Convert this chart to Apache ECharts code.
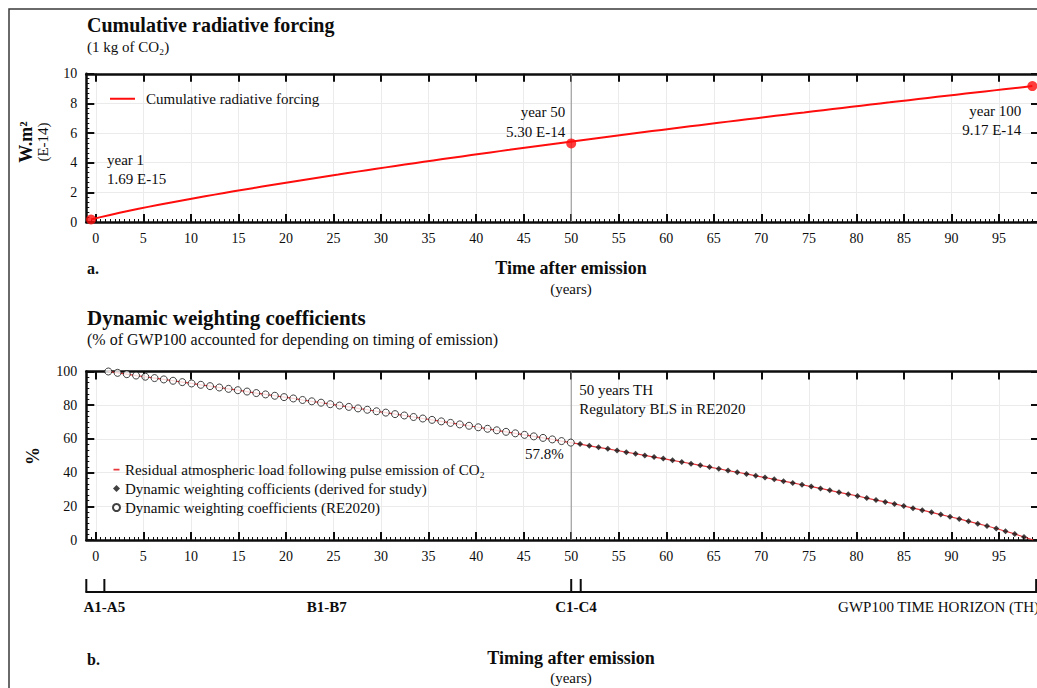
<!DOCTYPE html>
<html>
<head>
<meta charset="utf-8">
<title>Cumulative radiative forcing and dynamic weighting coefficients</title>
<script src="https://cdn.jsdelivr.net/npm/echarts@6/dist/echarts.min.js"></script>
<style>
  html, body { margin: 0; padding: 0; background: #fff; overflow: hidden; }
  #chart { width: 1080px; height: 720px; }
</style>
</head>
<body>
<div id="chart"></div>
<script>
// Cumulative radiative forcing of a 1 kg CO2 pulse (E-14 W.m-2.yr), one value per year from year 1 to year 100
const forcingFirstYear = 1;
const forcingValues = [
  0.169, 0.328, 0.478, 0.622, 0.759, 0.892, 1.021, 1.146, 1.269, 1.389,
  1.506, 1.622, 1.736, 1.848, 1.959, 2.068, 2.176, 2.284, 2.389, 2.494,
  2.598, 2.701, 2.803, 2.905, 3.005, 3.105, 3.203, 3.302, 3.399, 3.495,
  3.591, 3.686, 3.781, 3.875, 3.968, 4.061, 4.153, 4.244, 4.335, 4.426,
  4.515, 4.605, 4.693, 4.782, 4.869, 4.957, 5.043, 5.130, 5.216, 5.301,
  5.386, 5.471, 5.555, 5.639, 5.722, 5.805, 5.887, 5.970, 6.052, 6.133,
  6.214, 6.295, 6.376, 6.456, 6.536, 6.615, 6.694, 6.773, 6.852, 6.930,
  7.008, 7.086, 7.163, 7.241, 7.318, 7.394, 7.471, 7.547, 7.623, 7.699,
  7.774, 7.850, 7.925, 8.000, 8.074, 8.149, 8.223, 8.297, 8.371, 8.444,
  8.518, 8.591, 8.664, 8.737, 8.809, 8.882, 8.954, 9.026, 9.098, 9.170
];

// Highlighted cumulative forcing values
const forcingStart = { year: 1, value: 0.169, text: 'year 1\n1.69 E-15' };
const forcingMid = { year: 50, value: 5.30, text: 'year 50\n5.30 E-14' };
const forcingEnd = { year: 100, value: 9.17, text: 'year 100\n9.17 E-14' };

// Residual atmospheric load / dynamic weighting coefficients (%), timing 0 to 100 years
const weightingValues = [
  100, 99.2, 98.4, 97.6, 96.9, 96.1, 95.3, 94.5, 93.7, 92.9,
  92.1, 91.3, 90.5, 89.7, 88.9, 88.1, 87.2, 86.4, 85.6, 84.8,
  84.0, 83.1, 82.3, 81.5, 80.6, 79.8, 79.0, 78.1, 77.3, 76.4,
  75.6, 74.7, 73.9, 73.0, 72.1, 71.3, 70.4, 69.5, 68.6, 67.8,
  66.9, 66.0, 65.1, 64.2, 63.3, 62.4, 61.5, 60.6, 59.7, 58.7,
  57.8, 56.9, 55.9, 55.0, 54.1, 53.1, 52.1, 51.2, 50.2, 49.2,
  48.3, 47.3, 46.3, 45.3, 44.3, 43.3, 42.3, 41.2, 40.2, 39.2,
  38.1, 37.1, 36.0, 34.9, 33.9, 32.8, 31.7, 30.6, 29.5, 28.3,
  27.2, 26.1, 24.9, 23.7, 22.6, 21.4, 20.2, 18.9, 17.7, 16.4,
  15.1, 13.8, 12.5, 11.1, 9.7, 8.3, 6.8, 5.2, 3.6, 1.8,
  0
];
const re2020LastIndex = 50;      // RE2020 coefficients: 0..50 years
const derivedLastIndex = 99;     // coefficients derived for the study: 51..99 years
const thresholdYear = 50;        // 50 years TH, regulatory building lifespan
const thresholdLabel = '57.8%';

// Axis ticks
const xTickValues = [0, 5, 10, 15, 20, 25, 30, 35, 40, 45, 50, 55, 60, 65, 70, 75, 80, 85, 90, 95];

// Life-cycle stages along the timeline
const stageBounds = [-1, 0.9, 50, 51, 98.9];
const stageLabels = [
  { text: 'A1-A5', at: 0.9, bold: true, align: 'center' },
  { text: 'B1-B7', at: 24.3, bold: true, align: 'center' },
  { text: 'C1-C4', at: 50.5, bold: true, align: 'center' },
  { text: 'GWP100 TIME HORIZON (TH)', at: 99.2, bold: false, align: 'right' }
];

const FONT = '"Liberation Serif", "DejaVu Serif", serif';
const INK = '#0d0d0d';
const GRID_LINE = '#ebebeb';
const RED = '#ff0d0d';
const RESIDUAL_RED = '#e8383d';

// legend glyphs: a horizontal dash inside an invisible bounding box
const LINE_ICON = 'path://M0,0h0.01v0.01h-0.01z M0,6.2h25v2h-25z M25,14h0.01v0.01h-0.01z';
const DASH_ICON = 'path://M0,0h0.01v0.01h-0.01z M0.5,2.7h6v1.7h-6z M7,7h0.01v0.01h-0.01z';

const minorTickValues = [];
for (let v = -0.5; v <= 99; v += 0.5) {
  if (v % 5 !== 0) minorTickValues.push(v);
}

const X_MIN = -1, X_MAX = 99.2;
const PLOT_LEFT = 86.3, PLOT_WIDTH = 952.7;

function frameXAxes(gridIndex, dataMin, dataMax) {
  return [
    {
      gridIndex, type: 'value', min: X_MIN, max: X_MAX, position: 'bottom',
      axisLine: { show: true, onZero: false, lineStyle: { color: INK, width: 2.5 } },
      axisTick: { show: true, inside: true, length: 8, customValues: xTickValues, lineStyle: { color: INK, width: 2 } },
      axisLabel: { show: true, customValues: xTickValues, margin: 9, color: INK, fontFamily: FONT, fontSize: 14 },
      splitLine: { show: true, lineStyle: { color: GRID_LINE, width: 1 } },
      minorTick: { show: false }
    },
    {
      gridIndex, type: 'value', min: X_MIN, max: X_MAX, position: 'top',
      axisLine: { show: true, onZero: false, lineStyle: { color: INK, width: 2.5 } },
      axisTick: { show: true, inside: true, length: 8, customValues: xTickValues, lineStyle: { color: INK, width: 2 } },
      axisLabel: { show: false },
      splitLine: { show: false }
    },
    {
      gridIndex, type: 'value', min: X_MIN, max: X_MAX, position: 'bottom',
      axisLine: { show: false, onZero: false },
      axisTick: { show: true, inside: true, length: 3, customValues: minorTickValues, lineStyle: { color: INK, width: 1 } },
      axisLabel: { show: false },
      splitLine: { show: false }
    },
    {
      gridIndex, type: 'value', min: dataMin, max: dataMax, show: false
    }
  ];
}

function frameYAxes(gridIndex, max, interval) {
  return [
    {
      gridIndex, type: 'value', min: 0, max, interval, position: 'left',
      axisLine: { show: true, onZero: false, lineStyle: { color: INK, width: 2.5 } },
      axisTick: { show: true, inside: true, length: 8, lineStyle: { color: INK, width: 2 } },
      minorTick: { show: true, splitNumber: 6, length: 3, lineStyle: { color: INK, width: 1 } },
      axisLabel: { show: true, margin: 9, color: INK, fontFamily: FONT, fontSize: 14 },
      splitLine: { show: true, lineStyle: { color: GRID_LINE, width: 1 } }
    },
    {
      gridIndex, type: 'value', min: 0, max, interval, position: 'right',
      axisLine: { show: true, onZero: false, lineStyle: { color: INK, width: 2.5 } },
      axisTick: { show: true, inside: true, length: 8, lineStyle: { color: INK, width: 2 } },
      axisLabel: { show: false },
      splitLine: { show: false }
    }
  ];
}

function text(x, y, str, size, bold, align, rotation) {
  return {
    type: 'text', x, y, rotation: rotation || 0, silent: true,
    style: {
      text: str, fill: INK, fontFamily: FONT, fontSize: size,
      fontWeight: bold ? 'bold' : 'normal', align: align || 'left', verticalAlign: 'middle'
    }
  };
}

// point annotation placed relative to the centre of its marker
function note(str, dx, dy, align, lineHeight) {
  return {
    show: true, formatter: str, position: 'inside', offset: [dx, dy],
    align, verticalAlign: 'middle',
    fontFamily: FONT, fontSize: 15, color: INK, lineHeight: lineHeight || 20,
    textBorderWidth: 0, textBorderColor: 'transparent', textShadowBlur: 0, opacity: 1
  };
}

const option = {
  animation: false,
  backgroundColor: '#fff',
  grid: [
    { left: PLOT_LEFT, top: 73.8, width: PLOT_WIDTH, height: 148.2, outerBoundsMode: 'none' },
    { left: PLOT_LEFT, top: 371.5, width: PLOT_WIDTH, height: 168.5, outerBoundsMode: 'none' },
    { left: PLOT_LEFT, top: 579, width: PLOT_WIDTH, height: 12.5, outerBoundsMode: 'none' }
  ],
  xAxis: [
    ...frameXAxes(0, 0.5, 100.7),
    ...frameXAxes(1, -2.38, 100.62),
    {
      gridIndex: 2, type: 'value', min: X_MIN, max: X_MAX, position: 'bottom',
      axisLine: { show: true, onZero: false, lineStyle: { color: INK, width: 2 } },
      axisTick: { show: false }, axisLabel: { show: false }, splitLine: { show: false }
    }
  ],
  yAxis: [
    ...frameYAxes(0, 10, 2),
    ...frameYAxes(1, 100, 20),
    { gridIndex: 2, type: 'value', min: 0, max: 1, show: false }
  ],
  legend: [
    {
      data: [{ name: 'Cumulative radiative forcing', icon: LINE_ICON }],
      left: 110, top: 91, itemWidth: 25, itemHeight: 14, selectedMode: false,
      padding: 0,
      textStyle: { fontFamily: FONT, fontSize: 15, color: INK, padding: [0, 0, 0, 6] }
    },
    {
      data: [
        { name: 'Residual atmospheric load following pulse emission of CO₂', icon: DASH_ICON },
        'Dynamic weighting cofficients (derived for study)',
        'Dynamic weighting coefficients (RE2020)'
      ],
      orient: 'vertical', left: 112, top: 462, itemWidth: 7, itemHeight: 7, itemGap: 4,
      selectedMode: false, padding: 0,
      textStyle: { fontFamily: FONT, fontSize: 15, color: INK, lineHeight: 15 }
    }
  ],
  graphic: [
    {
      type: 'rect', silent: true, z: -10,
      shape: { x: 9, y: 9, width: 1300, height: 900 },
      style: { fill: 'none', stroke: '#3a3a3a', lineWidth: 1.5 }
    },
    text(87, 25, 'Cumulative radiative forcing', 20, true),
    text(87, 46.5, '(1 kg of CO₂)', 15, false),
    text(26, 142, 'W.m²', 18, true, 'center', Math.PI / 2),
    text(43, 142, '(E-14)', 15, false, 'center', Math.PI / 2),
    text(87, 268, 'a.', 16, true),
    text(571, 268, 'Time after emission', 18, true, 'center'),
    text(571, 289, '(years)', 15, false, 'center'),
    text(87, 318, 'Dynamic weighting coefficients', 21, true),
    text(87, 339, '(% of GWP100 accounted for depending on timing of emission)', 16, false),
    text(33, 456, '%', 18, true, 'center', Math.PI / 2),
    text(87, 659, 'b.', 16, true),
    text(571, 658, 'Timing after emission', 18, true, 'center'),
    text(571, 678, '(years)', 15, false, 'center')
  ],
  series: [
    // a. cumulative radiative forcing
    {
      name: 'Cumulative radiative forcing', type: 'line',
      xAxisIndex: 3, yAxisIndex: 0, z: 3,
      data: forcingValues.map((v, i) => [forcingFirstYear + i, v]),
      symbol: 'none', showSymbol: false, color: RED,
      lineStyle: { color: RED, width: 2 }
    },
    {
      name: 'threshold-a', type: 'line', xAxisIndex: 0, yAxisIndex: 0, z: 2, silent: true,
      data: [[thresholdYear, 0], [thresholdYear, 10]],
      symbol: 'none', lineStyle: { color: '#8f8f8f', width: 1 }
    },
    {
      name: 'forcing-ends', type: 'scatter', xAxisIndex: 3, yAxisIndex: 0, z: 5,
      symbolSize: 10, itemStyle: { color: RED },
      data: [
        { value: [forcingStart.year, forcingStart.value], label: note(forcingStart.text, 16, -50, 'left', 19) },
        { value: [forcingEnd.year, forcingEnd.value], label: note(forcingEnd.text, -11, 34.5, 'right', 19) }
      ]
    },
    {
      name: 'forcing-mid', type: 'scatter', xAxisIndex: 0, yAxisIndex: 0, z: 5,
      symbolSize: 10, itemStyle: { color: RED },
      data: [
        { value: [forcingMid.year, forcingMid.value], label: note(forcingMid.text, -6, -21.5, 'right', 20) }
      ]
    },
    // b. dynamic weighting coefficients
    {
      name: 'Residual atmospheric load following pulse emission of CO₂', type: 'line',
      xAxisIndex: 7, yAxisIndex: 2, z: 3,
      data: weightingValues.map((v, i) => [i, v]),
      symbol: 'none', showSymbol: false, color: RESIDUAL_RED,
      lineStyle: { color: RESIDUAL_RED, width: 1.2 }
    },
    {
      name: 'threshold-b', type: 'line', xAxisIndex: 4, yAxisIndex: 2, z: 2, silent: true,
      data: [[thresholdYear, 0], [thresholdYear, 100]],
      symbol: 'none', lineStyle: { color: '#8f8f8f', width: 1 }
    },
    {
      name: 'threshold-b-label', type: 'scatter', xAxisIndex: 4, yAxisIndex: 2, z: 5, silent: true,
      symbolSize: 1, itemStyle: { color: 'rgba(0,0,0,0)' },
      data: [
        { value: [thresholdYear, 100], label: note('50 years TH\nRegulatory BLS in RE2020', 8, 27.5, 'left', 19) }
      ]
    },
    {
      name: 'Dynamic weighting cofficients (derived for study)', type: 'scatter',
      xAxisIndex: 7, yAxisIndex: 2, z: 4,
      symbol: 'diamond', symbolSize: 6,
      itemStyle: { color: '#111' },
      data: weightingValues.slice(re2020LastIndex + 1, derivedLastIndex + 1)
        .map((v, i) => [re2020LastIndex + 1 + i, v])
    },
    {
      name: 'Dynamic weighting coefficients (RE2020)', type: 'scatter',
      xAxisIndex: 7, yAxisIndex: 2, z: 4,
      symbol: 'circle', symbolSize: 7,
      itemStyle: { color: '#fff', borderColor: '#111', borderWidth: 1 },
      data: weightingValues.slice(0, re2020LastIndex + 1).map((v, i) => {
        if (i === re2020LastIndex) {
          return { value: [i, v], label: note(thresholdLabel, -7, 11, 'right') };
        }
        return [i, v];
      })
    },
    // timeline of life-cycle stages
    {
      name: 'stage-bounds', type: 'custom', xAxisIndex: 8, yAxisIndex: 4, silent: true,
      data: stageBounds.map(v => [v]),
      renderItem: (params, api) => {
        const top = api.coord([api.value(0), 1]);
        const bottom = api.coord([api.value(0), 0]);
        return {
          type: 'line',
          shape: { x1: top[0], y1: top[1], x2: bottom[0], y2: bottom[1] + 1 },
          style: { stroke: INK, lineWidth: 2 }
        };
      }
    },
    {
      name: 'stage-labels', type: 'custom', xAxisIndex: 8, yAxisIndex: 4, silent: true,
      data: stageLabels.map(s => [s.at]),
      renderItem: (params, api) => {
        const s = stageLabels[params.dataIndex];
        const p = api.coord([api.value(0), 0]);
        return {
          type: 'text', x: p[0], y: p[1] + 15,
          style: {
            text: s.text, fill: INK, fontFamily: FONT, fontSize: 15,
            fontWeight: s.bold ? 'bold' : 'normal', align: s.align, verticalAlign: 'middle'
          }
        };
      }
    }
  ]
};

const chart = echarts.init(document.getElementById('chart'), null, { renderer: 'svg' });
chart.setOption(option);
</script>
</body>
</html>
